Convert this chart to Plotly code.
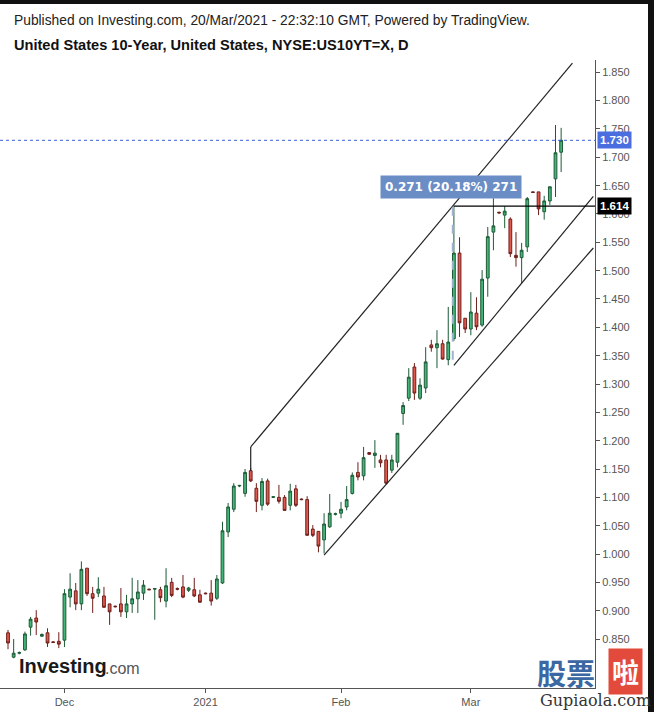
import plotly.graph_objects as go

# ---------------- data ----------------
bar_index = list(range(99))
open_ = [0.861, 0.818, 0.825, 0.831, 0.871, 0.887, 0.855, 0.861, 0.845, 0.846,
         0.848, 0.924, 0.935, 0.912, 0.975, 0.930, 0.931, 0.926, 0.912, 0.908,
         0.912, 0.898, 0.912, 0.921, 0.931, 0.938, 0.938, 0.937, 0.917, 0.950,
         0.939, 0.942, 0.936, 0.937, 0.928, 0.931, 0.931, 0.922, 0.949, 1.039,
         1.079, 1.120, 1.107, 1.147, 1.116, 1.086, 1.129, 1.100, 1.100, 1.100,
         1.086, 1.115, 1.097, 1.096, 1.044, 1.040, 1.025, 1.048, 1.070, 1.072,
         1.083, 1.107, 1.144, 1.138, 1.179, 1.174, 1.166, 1.166, 1.148, 1.162,
         1.248, 1.275, 1.330, 1.275, 1.293, 1.369, 1.364, 1.371, 1.343, 1.380,
         1.531, 1.416, 1.397, 1.425, 1.404, 1.487, 1.568, 1.603, 1.598, 1.591,
         1.527, 1.523, 1.542, 1.639, 1.639, 1.604, 1.623, 1.662, 1.709]
high = [0.866, 0.850, 0.828, 0.863, 0.889, 0.901, 0.860, 0.869, 0.846, 0.862,
        0.938, 0.966, 0.949, 0.987, 0.975, 0.942, 0.959, 0.942, 0.912, 0.909,
        0.940, 0.928, 0.958, 0.954, 0.954, 0.939, 0.940, 0.942, 0.975, 0.958,
        0.941, 0.963, 0.942, 0.958, 0.937, 0.932, 0.954, 0.963, 1.057, 1.090,
        1.125, 1.122, 1.150, 1.152, 1.125, 1.134, 1.133, 1.101, 1.122, 1.104,
        1.124, 1.122, 1.098, 1.102, 1.051, 1.040, 1.072, 1.106, 1.073, 1.092,
        1.120, 1.144, 1.162, 1.189, 1.180, 1.201, 1.175, 1.175, 1.175, 1.213,
        1.268, 1.328, 1.337, 1.310, 1.365, 1.378, 1.395, 1.378, 1.436, 1.614,
        1.559, 1.416, 1.462, 1.453, 1.501, 1.577, 1.628, 1.604, 1.614, 1.594,
        1.568, 1.549, 1.630, 1.640, 1.639, 1.632, 1.648, 1.757, 1.752]
low = [0.832, 0.816, 0.823, 0.829, 0.856, 0.857, 0.854, 0.836, 0.843, 0.834,
       0.836, 0.906, 0.901, 0.901, 0.926, 0.896, 0.924, 0.906, 0.875, 0.906,
       0.889, 0.887, 0.896, 0.896, 0.919, 0.936, 0.884, 0.915, 0.906, 0.924,
       0.936, 0.922, 0.933, 0.924, 0.914, 0.929, 0.909, 0.919, 0.947, 1.030,
       1.074, 1.118, 1.101, 1.127, 1.074, 1.077, 1.085, 1.099, 1.089, 1.077,
       1.077, 1.083, 1.095, 1.033, 1.030, 1.003, 1.001, 1.046, 1.068, 1.063,
       1.077, 1.105, 1.130, 1.130, 1.175, 1.152, 1.153, 1.123, 1.143, 1.153,
       1.228, 1.270, 1.272, 1.272, 1.284, 1.357, 1.328, 1.343, 1.333, 1.376,
       1.383, 1.390, 1.386, 1.395, 1.401, 1.454, 1.536, 1.600, 1.575, 1.524,
       1.507, 1.478, 1.533, 1.638, 1.598, 1.590, 1.616, 1.630, 1.674]
close = [0.843, 0.825, 0.826, 0.859, 0.885, 0.880, 0.858, 0.843, 0.844, 0.841,
         0.930, 0.938, 0.912, 0.973, 0.930, 0.922, 0.938, 0.906, 0.898, 0.907,
         0.898, 0.912, 0.921, 0.933, 0.945, 0.937, 0.939, 0.923, 0.944, 0.927,
         0.938, 0.924, 0.940, 0.926, 0.915, 0.930, 0.917, 0.956, 1.041, 1.083,
         1.120, 1.121, 1.144, 1.129, 1.093, 1.128, 1.088, 1.101, 1.093, 1.077,
         1.111, 1.086, 1.096, 1.033, 1.033, 1.014, 1.053, 1.072, 1.071, 1.079,
         1.096, 1.139, 1.136, 1.170, 1.176, 1.178, 1.161, 1.125, 1.166, 1.213,
         1.262, 1.312, 1.284, 1.298, 1.339, 1.364, 1.371, 1.344, 1.374, 1.531,
         1.408, 1.397, 1.427, 1.401, 1.485, 1.560, 1.579, 1.602, 1.605, 1.530,
         1.523, 1.536, 1.627, 1.638, 1.609, 1.623, 1.648, 1.708, 1.730]

x_tick_pos = [10, 35, 59, 82]
x_tick_text = ["Dec", "2021", "Feb", "Mar"]
y_tick_vals = [0.85, 0.90, 0.95, 1.00, 1.05, 1.10, 1.15, 1.20, 1.25, 1.30, 1.35,
               1.40, 1.45, 1.50, 1.55, 1.60, 1.65, 1.70, 1.75, 1.80, 1.85]

last_price = 1.730
level_price = 1.614
measure_low = 1.343
measure_bar = 79
measure_text = "0.271 (20.18%) 271"

channel_upper_x, channel_upper_y = [43, 100], [1.189, 1.866]
channel_anchor_x, channel_anchor_y = [43, 43], [1.147, 1.189]
channel_mid_x, channel_mid_y = [79, 103.7], [1.333, 1.631]
channel_low_x, channel_low_y = [56, 103.7], [0.998, 1.540]

FONT = "Liberation Sans, Arial, sans-serif"

fig = go.Figure()
fig.add_trace(go.Candlestick(
    x=bar_index, open=open_, high=high, low=low, close=close,
    increasing=dict(fillcolor="#45b57a", line=dict(color="#1d5a36", width=1)),
    decreasing=dict(fillcolor="#e0594e", line=dict(color="#6e1f1a", width=1)),
    whiskerwidth=0, showlegend=False, hoverinfo="skip",
))

shapes = []
for xs, ys in [(channel_upper_x, channel_upper_y), (channel_anchor_x, channel_anchor_y),
               (channel_mid_x, channel_mid_y), (channel_low_x, channel_low_y)]:
    shapes.append(dict(type="line", xref="x", yref="y", x0=xs[0], x1=xs[1], y0=ys[0], y1=ys[1],
                       line=dict(color="#222222", width=1.2)))
# horizontal level line
shapes.append(dict(type="line", xref="x", yref="y", x0=measure_bar, x1=104, y0=level_price,
                   y1=level_price, line=dict(color="#000000", width=1.2)))
# measurement dashed vertical
shapes.append(dict(type="line", xref="x", yref="y", x0=measure_bar - 0.2, x1=measure_bar - 0.2,
                   y0=measure_low, y1=level_price, line=dict(color="#9fb3cf", width=2, dash="dash")))
# last price dotted line
shapes.append(dict(type="line", xref="paper", yref="y", x0=0, x1=1, y0=last_price, y1=last_price,
                   line=dict(color="#3d5fd6", width=1, dash="dot")))
# frame (screenshot border)
shapes.append(dict(type="rect", xref="paper", yref="paper", x0=-0.01, x1=1.2, y0=1.089, y1=1.2,
                   fillcolor="#111111", line=dict(width=0), layer="above"))
shapes.append(dict(type="rect", xref="paper", yref="paper", x0=1.0891, x1=1.2, y0=-0.1, y1=1.2,
                   fillcolor="#111111", line=dict(width=0), layer="above"))

annotations = [
    dict(xref="paper", yref="paper", x=12 / 595, y=(688 - 20) / 628, xanchor="left", yanchor="middle",
         text="Published on Investing.com, 20/Mar/2021 - 22:32:10 GMT, Powered by TradingView.",
         showarrow=False, font=dict(family=FONT, size=13.8, color="#222222")),
    dict(xref="paper", yref="paper", x=12 / 595, y=(688 - 45) / 628, xanchor="left", yanchor="middle",
         text="<b>United States 10-Year, United States, NYSE:US10YT=X, D</b>",
         showarrow=False, font=dict(family=FONT, size=14.6, color="#111111")),
    dict(xref="paper", yref="y", x=1.0, y=last_price, xanchor="left", yanchor="middle", xshift=2,
         text="<b>1.730</b>", showarrow=False, bgcolor="#4a6ee0", borderpad=2,
         font=dict(family=FONT, size=11.5, color="white")),
    dict(xref="paper", yref="y", x=1.0, y=level_price, xanchor="left", yanchor="middle", xshift=2,
         text="<b>1.614</b>", showarrow=False, bgcolor="#000000", borderpad=2,
         font=dict(family=FONT, size=11.5, color="white")),
    dict(xref="x", yref="y", x=78.5, y=1.648, xanchor="center", yanchor="middle",
         text="<b>" + measure_text + "</b>", showarrow=False, bgcolor="#6b8dc6", borderpad=4,
         font=dict(family="DejaVu Sans, sans-serif", size=12, color="white")),
    dict(xref="paper", yref="paper", x=17 / 595, y=(688 - 666) / 628, xanchor="left", yanchor="middle",
         text="<b>Investing</b>", showarrow=False,
         font=dict(family=FONT, size=20, color="#1a1a1a")),
    dict(xref="paper", yref="paper", x=103 / 595, y=(688 - 668) / 628, xanchor="left", yanchor="middle",
         text=".com", showarrow=False,
         font=dict(family=FONT, size=16, color="#555555")),
    dict(xref="paper", yref="paper", x=566 / 595, y=(688 - 672) / 628, xanchor="center", yanchor="middle",
         text="<b>股票</b>", showarrow=False,
         font=dict(family="Noto Sans CJK SC", size=29, color="#3b67a3")),
    dict(xref="paper", yref="paper", x=625 / 595, y=(688 - 671) / 628, xanchor="center", yanchor="middle",
         text="<b>啦</b>", showarrow=False, bgcolor="#e24a3b", borderpad=3,
         font=dict(family="Noto Sans CJK SC", size=27, color="white")),
    dict(xref="paper", yref="paper", x=595 / 595, y=(688 - 700) / 628, xanchor="center", yanchor="middle",
         text="Gupiaola.com", showarrow=False,
         font=dict(family="DejaVu Serif, serif", size=16, color="#333333")),
]

fig.update_layout(
    width=654, height=712,
    margin=dict(l=0, r=59, t=60, b=24),
    paper_bgcolor="white", plot_bgcolor="white",
    shapes=shapes, annotations=annotations,
    showlegend=False,
    xaxis=dict(range=[-1.42, 104.0], rangeslider=dict(visible=False), showgrid=False, zeroline=False,
               tickmode="array", tickvals=x_tick_pos, ticktext=x_tick_text,
               ticks="outside", ticklen=4, tickcolor="#555555",
               showline=True, linecolor="#555555", linewidth=1,
               tickfont=dict(family=FONT, size=11, color="#555555")),
    yaxis=dict(range=[0.7636, 1.8717], side="right", showgrid=False, zeroline=False,
               tickmode="array", tickvals=y_tick_vals, tickformat=".3f",
               ticks="outside", ticklen=4, tickcolor="#555555",
               showline=True, linecolor="#555555", linewidth=1,
               tickfont=dict(family=FONT, size=11, color="#555555")),
)

fig.write_html("out.html")
